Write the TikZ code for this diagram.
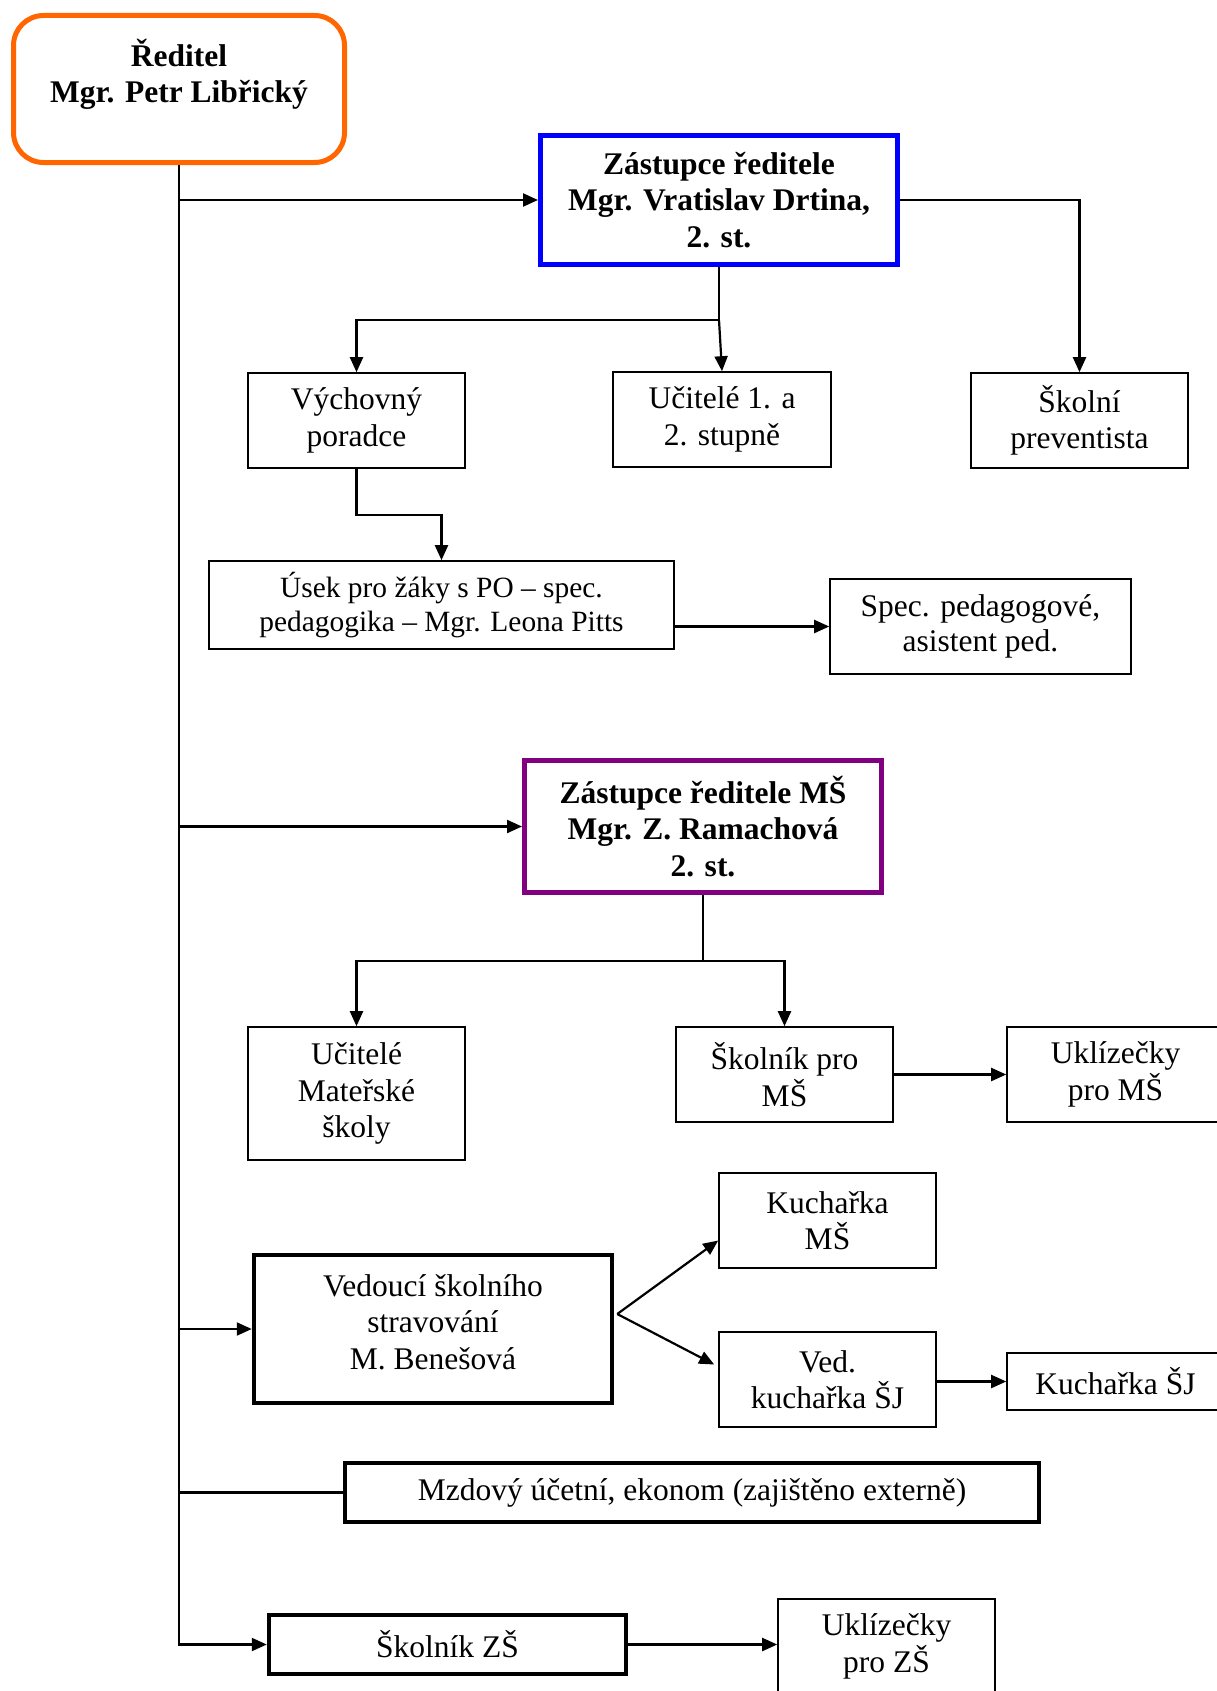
\documentclass[tikz,border=0pt]{standalone}
\usepackage{fontspec}
\setmainfont{Liberation Serif}
\usetikzlibrary{arrows.meta,calc}
\definecolor{orng}{RGB}{255,102,0}
\definecolor{blu}{RGB}{0,0,255}
\definecolor{purp}{RGB}{128,0,128}
\newcommand\myfs{\fontsize{31.5}{36.5}\selectfont}
\begin{document}
\begin{tikzpicture}[x=1pt,y=-1pt,
  box/.style={draw, line width=1.6pt, align=center, inner sep=0pt, fill=white},
  thickbox/.style={box, line width=4.5pt},
  boldtxt/.style={font=\myfs\bfseries},
  arr/.style={line width=2.2pt, -{Triangle[length=15pt,width=13pt]}},
  ln/.style={line width=2.2pt},
  font=\myfs]
\fill[white] (0,0) rectangle (1216,1691);
\useasboundingbox (0,0) rectangle (1216,1691);

% nodes
\node[box, boldtxt, draw=orng, line width=5pt, rounded corners=30pt,
      minimum width=331pt, minimum height=147pt] (red) at (179,89)
      {Ředitel\\Mgr. Petr Libřický\\~};
\node[box, boldtxt, draw=blu, line width=5pt,
      minimum width=357pt, minimum height=129pt] (blue) at (719,200)
      {Zástupce ředitele\\Mgr. Vratislav Drtina,\\2. st.};
\node[box, minimum width=217pt, minimum height=95pt] (vych) at (356.5,420.5)
      {Výchovný\\poradce};
\node[box, minimum width=218pt, minimum height=95pt] (uc12) at (722,419.5)
      {Učitelé 1. a\\2. stupně};
\node[box, minimum width=217pt, minimum height=95pt] (prev) at (1079.5,420.5)
      {Školní\\preventista};
\node[box, minimum width=465pt, minimum height=88pt, font=\fontsize{29.4}{33.5}\selectfont] (usek) at (441.5,605)
      {Úsek pro žáky s PO – spec.\\pedagogika – Mgr. Leona Pitts};
\node[box, minimum width=301pt, minimum height=95pt, font=\fontsize{31.5}{34.5}\selectfont] (spec) at (980.5,626.5)
      {Spec. pedagogové,\\asistent ped.};
\node[box, boldtxt, draw=purp, line width=5pt,
      minimum width=357pt, minimum height=132pt] (purple) at (703,826.5)
      {Zástupce ředitele MŠ\\Mgr. Z. Ramachová\\2. st.};
\node[box, minimum width=217pt, minimum height=133pt] (ucms) at (356.5,1093.5)
      {Učitelé\\Mateřské\\školy};
\node[box, minimum width=217pt, minimum height=95pt] (skms) at (784.5,1074.5)
      {Školník pro\\MŠ};
\node[box, minimum width=217pt, minimum height=95pt] (uklms) at (1115.5,1074.5)
      {Uklízečky\\pro MŠ};
\node[box, minimum width=217pt, minimum height=95pt] (kms) at (827.5,1220.5)
      {Kuchařka\\MŠ};
\node[thickbox, minimum width=358pt, minimum height=148pt, text depth=14pt] (ved) at (433,1329)
      {Vedoucí školního\\stravování\\M. Benešová};
\node[box, minimum width=217pt, minimum height=95pt] (vks) at (827.5,1379.5)
      {Ved.\\kuchařka ŠJ};
\node[box, minimum width=217pt, minimum height=57pt] (ksj) at (1115.5,1381.5)
      {Kuchařka ŠJ};
\node[thickbox, minimum width=694pt, minimum height=59pt] (mzd) at (692,1492.5)
      {Mzdový účetní, ekonom (zajištěno externě)};
\node[thickbox, minimum width=357pt, minimum height=59pt] (skzs) at (447.5,1644.5)
      {Školník ZŠ};
\node[box, minimum width=217pt, minimum height=95pt] (uklzs) at (886.5,1646.5)
      {Uklízečky\\pro ZŠ};

% trunk
\coordinate (tbot) at (179,1644.5);
\draw[arr] (red.south) -- (tbot) -- (skzs.west);
\draw[arr] (red.south |- blue.west) -- (blue.west);
\draw[arr] (red.south |- purple.west) -- (purple.west);
\draw[arr] (red.south |- ved.west) -- (ved.west);
\draw[ln] (red.south |- mzd.west) -- (mzd.west);

% deputy 1
\draw[arr] (blue.east) -| (prev.north);
\coordinate (j1) at (719,320);
\draw[arr] (blue.south) -- (j1) -| (vych.north);
\draw[arr] (j1) -- (uc12.north);
\draw[arr] (vych.south) -- ++(0,46) -| (usek.north);
\draw[arr] (usek.east |- spec.west) -- (spec.west);

% deputy MS
\coordinate (j2) at (703,961);
\draw[arr] (purple.south) -- (j2) -| (ucms.north);
\draw[arr] (j2) -| (skms.north);
\draw[arr] (skms.east) -- (uklms.west);

% kitchen
\draw[arr] ([yshift=15pt,xshift=3pt]ved.east) -- ([yshift=-20pt]kms.west);
\draw[arr] ([yshift=15pt,xshift=3pt]ved.east) -- ([yshift=15pt,xshift=-4pt]vks.west);
\draw[arr] (vks.east |- ksj.west) -- (ksj.west);

% janitor
\draw[arr] (skzs.east) -- (skzs.east -| uklzs.west);
\end{tikzpicture}
\end{document}
